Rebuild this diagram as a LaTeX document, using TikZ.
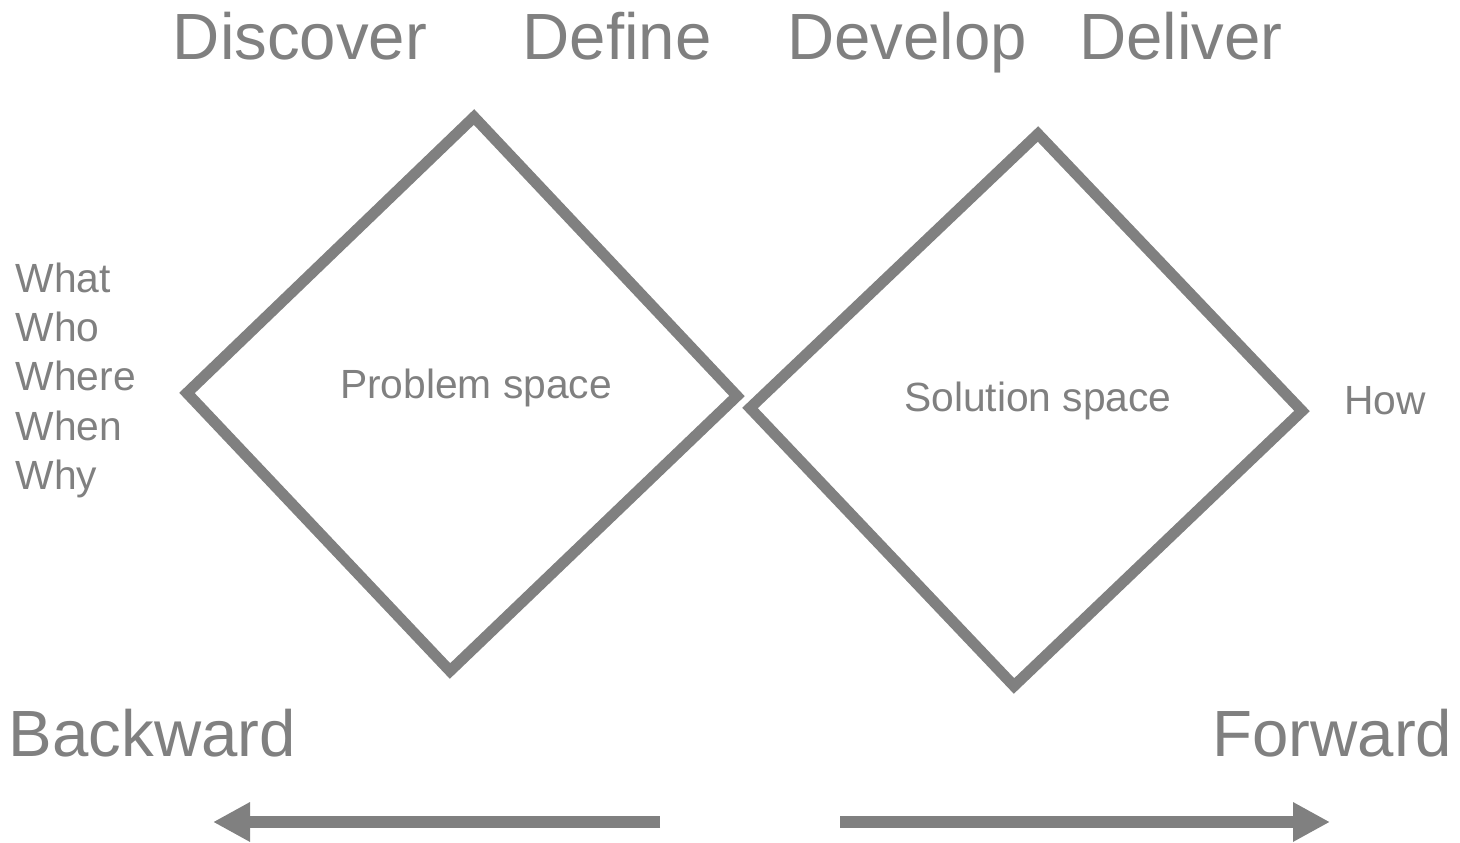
\documentclass[tikz,border=0pt]{standalone}
\usepackage{fontspec}
\setmainfont{Liberation Sans}
\usepackage{xcolor}
\usepackage{tikz}
\usetikzlibrary{arrows.meta,positioning}
\definecolor{Ink}{HTML}{808080}

\begin{document}
\begin{tikzpicture}[Ink,inner sep=0pt,
  phase/.style={anchor=base,font=\fontsize{18.6}{22}\selectfont},
  small/.style={anchor=base,font=\fontsize{11.6}{14}\selectfont},
  outline/.style={line width=1.1mm,line join=miter},
  flow/.style={line width=1.2mm,-{Triangle[length=3.7mm,width=3.7mm]}}]
  \useasboundingbox (0,0) rectangle (14.6,8.43);
  % phase headings
  \node[phase] (disc) at (3.00,7.83) {Discover};
  \node[phase] (defi) at (6.17,7.83) {Define};
  \node[phase] (deve) at (9.07,7.83) {Develop};
  \node[phase] (deli) at (11.81,7.83) {Deliver};
  % problem diamond
  \coordinate (pt) at (4.74,7.26);\coordinate (pr) at (7.37,4.47);
  \coordinate (pb) at (4.50,1.72);\coordinate (pl) at (1.87,4.50);
  \draw[outline] (pt)--(pr)--(pb)--(pl)--cycle;
  \node[small] (prob) at (4.76,4.44) {Problem space};
  % solution diamond
  \coordinate (st) at (10.38,7.09);\coordinate (sr) at (13.02,4.32);
  \coordinate (sb) at (10.14,1.57);\coordinate (sl) at (7.50,4.35);
  \draw[outline] (st)--(sr)--(sb)--(sl)--cycle;
  \node[small] (sol) at (10.38,4.31) {Solution space};
  % questions
  \foreach \q/\y in {What/5.50,Who/5.01,Where/4.52,When/4.02,Why/3.53}
    \node[small,anchor=base west] (q\q) at (0.15,\y) {\q};
  \node[small] (how) at (13.85,4.28) {How};
  % directions
  \node[phase,anchor=base west] (back) at (0.08,0.86) {Backward};
  \node[phase,anchor=base east] (fwd) at (14.53,0.86) {Forward};
  \coordinate (b0) at (6.60,0.21);\coordinate (b1) at (2.13,0.21);
  \coordinate (f0) at (8.40,0.21);\coordinate (f1) at (13.30,0.21);
  \draw[flow] (b0)--(b1);\draw[flow] (f0)--(f1);
\end{tikzpicture}
\end{document}
